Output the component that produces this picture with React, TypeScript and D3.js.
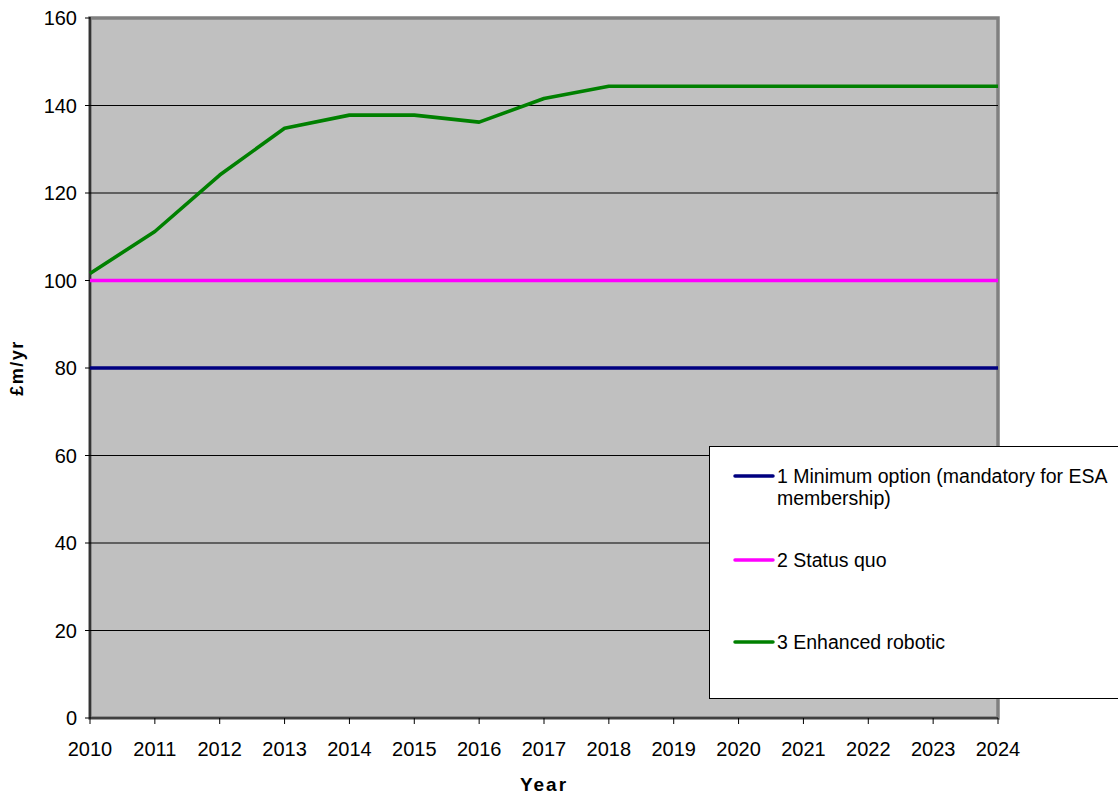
import * as d3 from "d3";

const years = [2010, 2011, 2012, 2013, 2014, 2015, 2016, 2017, 2018, 2019, 2020, 2021, 2022, 2023, 2024];
const minimumOption = [80, 80, 80, 80, 80, 80, 80, 80, 80, 80, 80, 80, 80, 80, 80];
const statusQuo = [100, 100, 100, 100, 100, 100, 100, 100, 100, 100, 100, 100, 100, 100, 100];
const enhancedRobotic = [101.6, 111.2, 124.1, 134.8, 137.8, 137.8, 136.2, 141.6, 144.4, 144.4, 144.4, 144.4, 144.4, 144.4, 144.4];
const yTicks = [0, 20, 40, 60, 80, 100, 120, 140, 160];

const seriesNames = ["1 Minimum option (mandatory for ESA", "2 Status quo", "3 Enhanced robotic"];
const seriesColors = ["#000080", "#ff00ff", "#008000"];

const W = 1118;
const H = 795;
const margin = { top: 18, right: 120, bottom: 77, left: 90 };
const font = "Liberation Sans, Arial, sans-serif";

const App = () => {
  const x = d3.scaleLinear().domain([2010, 2024]).range([margin.left, W - margin.right]);
  const y = d3.scaleLinear().domain([0, 160]).range([H - margin.bottom, margin.top]);
  const line = d3
    .line<number>()
    .x((_, i) => x(years[i]))
    .y((d) => y(d));

  const series = [minimumOption, statusQuo, enhancedRobotic];
  const x0 = x(2010);
  const x1 = x(2024);
  const y0 = y(0);
  const yTop = y(160);

  return (
    <svg
      width={W}
      height={H}
      style={{ position: "absolute", left: 0, top: 0 }}
      fontFamily={font}
    >
      <rect x={0} y={0} width={W} height={H} fill="#fff" />
      {/* plot area */}
      <rect x={x0} y={yTop} width={x1 - x0} height={y0 - yTop} fill="#c0c0c0" stroke="#808080" strokeWidth={3.5} />
      {yTicks.slice(1, -1).map((t) => (
        <line key={t} x1={x0} x2={x1} y1={y(t)} y2={y(t)} stroke="#000" strokeWidth={1} />
      ))}
      {/* axes */}
      <line x1={x0} x2={x0} y1={yTop - 1} y2={y0} stroke="#000" strokeWidth={1.2} />
      <line x1={x0} x2={x1} y1={y0} y2={y0} stroke="#000" strokeWidth={1.2} />
      {yTicks.map((t) => (
        <g key={t}>
          <line x1={x0 - 5} x2={x0} y1={y(t)} y2={y(t)} stroke="#000" />
          <text x={x0 - 13} y={y(t) + 7} textAnchor="end" fontSize={20}>
            {t}
          </text>
        </g>
      ))}
      {years.map((yr) => (
        <g key={yr}>
          <line x1={x(yr)} x2={x(yr)} y1={y0} y2={y0 + 6} stroke="#000" />
          <text x={x(yr)} y={y0 + 38} textAnchor="middle" fontSize={20}>
            {yr}
          </text>
        </g>
      ))}
      {/* series */}
      {series.map((s, i) => (
        <path
          key={i}
          d={line(s) ?? ""}
          fill="none"
          stroke={seriesColors[i]}
          strokeWidth={3.6}
          strokeLinejoin="round"
        />
      ))}
      {/* axis titles */}
      <text x={544} y={791} textAnchor="middle" fontSize={19} fontWeight="bold" letterSpacing={2}>
        Year
      </text>
      <text
        transform={`translate(23, 368) rotate(-90)`}
        textAnchor="middle"
        fontSize={18}
        fontWeight="bold"
        letterSpacing={1.5}
      >
        £m/yr
      </text>
      {/* legend */}
      <rect x={709.5} y={446.5} width={430} height={252} fill="#fff" stroke="#000" strokeWidth={1} />
      {seriesNames.map((name, i) => {
        const ly = [476, 560, 642][i];
        return (
          <g key={name}>
            <line x1={735} x2={773} y1={ly} y2={ly} stroke={seriesColors[i]} strokeWidth={3.5} strokeLinecap="round" />
            <text x={777} y={ly + 7} fontSize={19.5}>
              {name}
            </text>
            {i === 0 && (
              <text x={777} y={ly + 29} fontSize={19.5}>
                membership)
              </text>
            )}
          </g>
        );
      })}
    </svg>
  );
};

export default App;
